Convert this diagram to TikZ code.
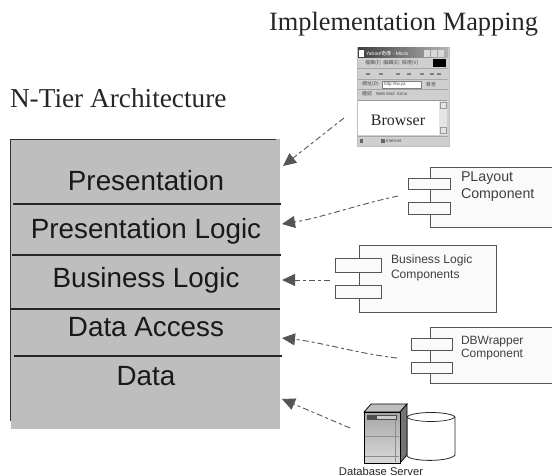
\documentclass[tikz,border=0pt]{standalone}
\usepackage{fontspec}
\setmainfont{Liberation Serif}
\setsansfont{Liberation Sans}
\newfontfamily\cjk{Noto Sans CJK TC}
\usetikzlibrary{arrows.meta}
\definecolor{tiergray}{HTML}{BEBEBE}
\definecolor{arrowgray}{HTML}{555555}
\definecolor{compfill}{HTML}{FAFAFA}
\definecolor{compline}{HTML}{555555}
\definecolor{winface}{HTML}{CFCFCF}
\newcommand{\fs}[1]{\fontsize{#1}{#1}\selectfont}
\tikzset{
  every node/.style={inner sep=0pt,outer sep=0pt},
  tierlabel/.style={font=\sffamily\fs{27.8},text=black!90,anchor=base},
  tierline/.style={line width=1.1pt,black!85},
  titletext/.style={font=\rmfamily\fs{26.4},text=black!85,anchor=base west},
  compbody/.style={draw=compline,fill=compfill,line width=0.9pt,anchor=north west},
  comptab/.style={draw=compline,fill=compfill,line width=0.9pt,anchor=north west},
  complabel/.style={font=\sffamily,text=black!75,anchor=north west,align=left},
  dep/.style={draw=arrowgray,line width=0.9pt,dash pattern=on 6pt off 3pt on 3pt off 3pt,
     -{Triangle[length=13pt,width=12pt,fill=arrowgray]}},
  tiny/.style={font=\sffamily\fs{5},text=black!70,anchor=west},
}
\begin{document}
\begin{tikzpicture}[x=1pt,y=-1pt]
\useasboundingbox (0,0) rectangle (552,476);
% titles
\node[titletext] (maptitle) at (269,31) {Implementation Mapping};
\node[titletext,font=\rmfamily\fs{27.3}] (tiertitle) at (10,108) {N-Tier Architecture};
% tier stack
\fill[tiergray] (11,139) rectangle (280,429);
\draw[line width=0.8pt,black!80] (10.5,421) -- (10.5,139) -- (276,139);
\draw[tierline] (13,204) -- (281,204);
\draw[tierline] (12,255) -- (281,255);
\draw[tierline] (11,309) -- (280,309);
\draw[tierline] (14,356) -- (282,356);
\node[tierlabel] (t1) at (146,190) {Presentation};
\node[tierlabel] (t2) at (146,239) {Presentation Logic};
\node[tierlabel] (t3) at (146,287) {Business Logic};
\node[tierlabel] (t4) at (146,336) {Data Access};
\node[tierlabel] (t5) at (146,385) {Data};
% arrow heads' targets
\coordinate (a1) at (283,166);
\coordinate (a2) at (282,224);
\coordinate (a3) at (282,280);
\coordinate (a4) at (282,338);
\coordinate (a5) at (282,399);
% browser window
\node[draw=black!25,fill=winface,minimum width=92pt,minimum height=99pt,anchor=north west] (browser) at (357,47) {};
\shade[left color=black!75,right color=black!30] (358,48) rectangle (448,58);
\fill[white] (359,50) rectangle (364,57);
\node[tiny,text=white] (bt) at (366,53.5) {Yahoo!\cjk 奇摩\sffamily{} - Micro};
\foreach \bx in {424,431,438}{\fill[black!15] (\bx,50) rectangle +(6,7);}
\node[tiny,font=\cjk\fs{5}] (bm) at (365,62.5) {檔案(F) \ 編輯(E) \ 檢視(V)};
\fill[black] (433,59) rectangle (446,67);
\draw[black!35] (358,68.5) -- (448,68.5);
\foreach \bx in {366,379,396,407,420,430,437}{\fill[black!50] (\bx,73) rectangle +(4,2.5);}
\draw[black!35] (358,79) -- (448,79);
\node[tiny,font=\cjk\fs{5}] (ba) at (362,84) {網址(D)};
\node[draw=black!50,fill=white,minimum width=39pt,minimum height=7pt,anchor=west] (bfield) at (382,84.5) {};
\node[tiny,font=\sffamily\fs{4.5}] (bu) at (384,84.5) {http://tw.ya};
\node[tiny,font=\cjk\fs{5}] (bg) at (426,84.5) {移至};
\draw[black!35] (358,89) -- (448,89);
\node[tiny,font=\cjk\fs{5}] (bl) at (362,94) {連結};
\node[tiny,font=\sffamily\fs{4.5}] (bl2) at (376,94) {Web Mail \ Kimo};
\fill[white] (358,100) rectangle (439,135);
\fill[black!10] (439,100) rectangle (447,135);
\draw[black!40] (358,100) -- (447,100);
\draw[black!40] (440,102) rectangle (446,108);
\draw[black!40] (440,127) rectangle (446,133);
\node[font=\rmfamily\fs{16},text=black!85] (blabel) at (398,120) {Browser};
\draw[black!35] (358,136) -- (448,136);
\node[tiny,font=\sffamily\fs{4.5}] (bs) at (386,141) {Internet};
\fill[black!60] (381,139) rectangle (385,143);
\fill[black!60] (360,139) rectangle (363,143);
% components
\node[compbody,minimum width=130pt,minimum height=60pt] (playout) at (430,167) {};
\node[comptab,minimum width=42pt,minimum height=11.5pt] (pt1) at (408,178) {};
\node[comptab,minimum width=42pt,minimum height=12pt] (pt2) at (408,202) {};
\node[complabel,font=\sffamily\fs{14.2}] (pl) at (461,171.5) {PLayout\\[3pt]Component};
\node[compbody,minimum width=137pt,minimum height=67pt] (bizc) at (359,245) {};
\node[comptab,minimum width=46pt,minimum height=14pt] (bt1) at (335,258) {};
\node[comptab,minimum width=46pt,minimum height=13pt] (bt2) at (335,285) {};
\node[complabel,font=\sffamily\fs{12.1}] (bzl) at (391,255) {Business Logic\\[3pt]Components};
\node[compbody,minimum width=130pt,minimum height=56pt] (dbw) at (430,327) {};
\node[comptab,minimum width=41pt,minimum height=12.5pt] (dt1) at (411,338) {};
\node[comptab,minimum width=41pt,minimum height=11pt] (dt2) at (411,362) {};
\node[complabel,font=\sffamily\fs{12}] (dl) at (461,336) {DBWrapper\\[1pt]Component};
% database server
\draw[line width=0.8pt,fill=white,draw=black!85] (407,417) .. controls (412,411) and (450,411) .. (455,417) -- (455,455) .. controls (450,462) and (412,462) .. (407,456) -- cycle;
\draw[line width=0.7pt,black!85] (407,417) .. controls (412,423) and (450,423) .. (455,417);
\filldraw[fill=black!25,draw=black,line width=0.7pt] (364,412) -- (371,404) -- (407,404) -- (400,412) -- cycle;
\filldraw[fill=black!55,draw=black,line width=0.7pt] (400,412) -- (407,404) -- (407,455) -- (400,463) -- cycle;
\shade[top color=black!35,bottom color=black!15,draw=black,line width=0.7pt] (364,412) rectangle (400,463);
\fill[black!70] (367,415) rectangle (397,420);
\fill[white!80!black] (377,416) rectangle (396,419);
\draw[black!45] (365,436) -- (399,436);
\draw[black!45] (365,456) -- (399,456);
\draw[black!45] (395,420) -- (395,462);
\node[font=\sffamily\fs{11.2},text=black!85,anchor=base] (dbl) at (381,475) {Database Server};
% dependencies
\coordinate (s1) at (344,118);
\coordinate (s2) at (398,196);
\coordinate (s3) at (330,280);
\coordinate (s4) at (397,358);
\coordinate (s5) at (350,428);
\draw[dep] (s1) -- (a1);
\draw[dep] (s2) .. controls (360,204) and (320,218) .. (a2);
\draw[dep] (s3) -- (a3);
\draw[dep] (s4) .. controls (360,354) and (320,342) .. (a4);
\draw[dep] (s5) -- (a5);
\end{tikzpicture}
\end{document}
